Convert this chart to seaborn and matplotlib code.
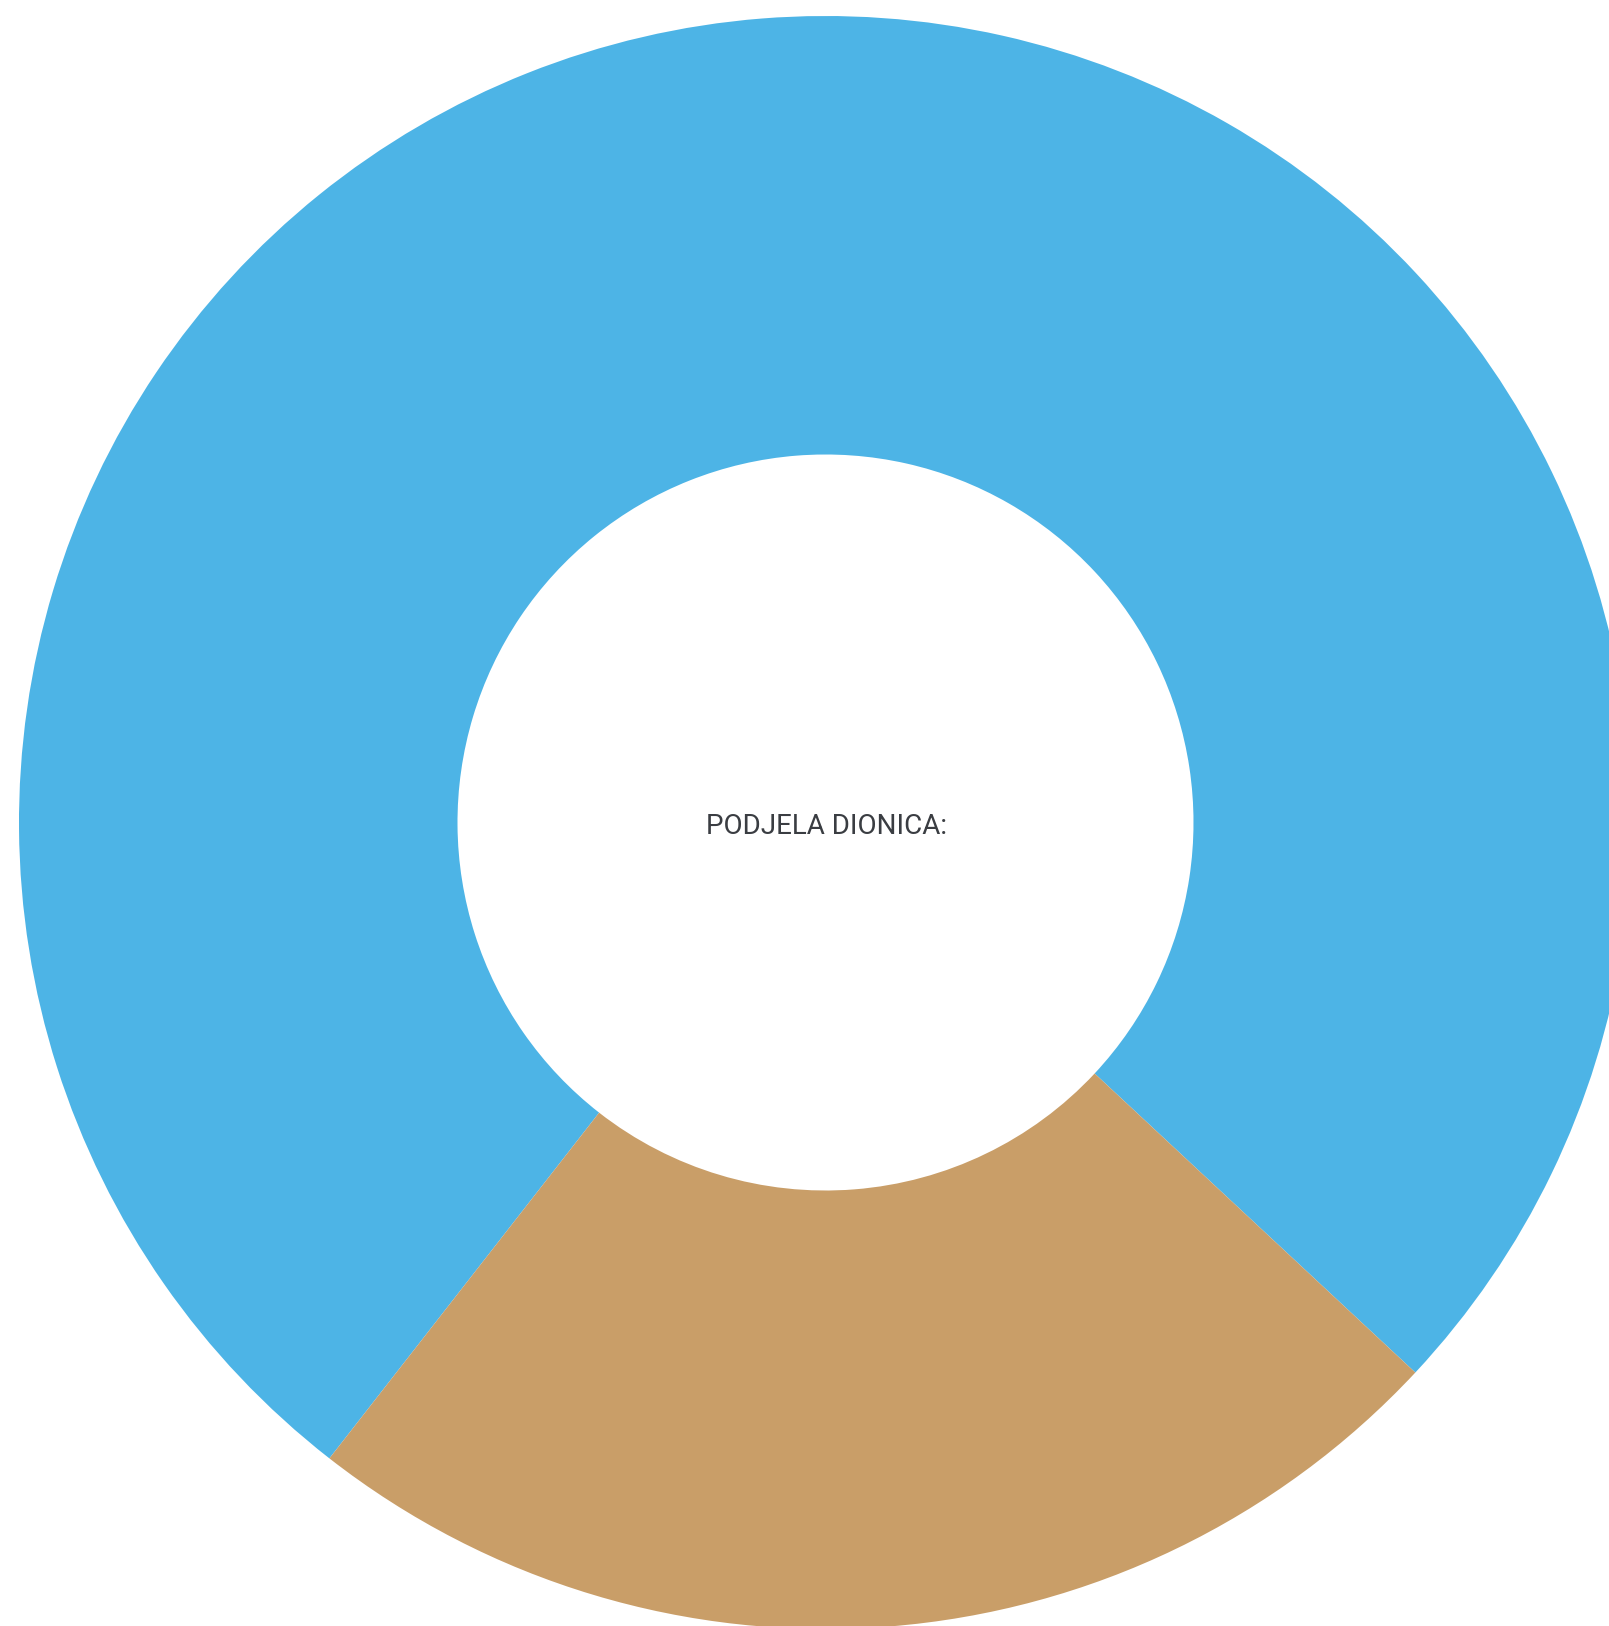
import matplotlib
matplotlib.use("Agg")
import matplotlib.pyplot as plt
import seaborn as sns

# podjela dionica (udjeli u postocima, procijenjeno sa slike)
kategorije = ["Dionice A", "Dionice B"]
udjeli = [76.4, 23.6]
boje = ["#4DB4E6", "#C99E68"]
naslov = "PODJELA DIONICA:"

sns.set_theme(style="white")
plt.rcParams['font.family'] = ['Roboto', 'DejaVu Sans']

fig = plt.figure(figsize=(16.09, 16.26), dpi=100)
ax = fig.add_axes([0, 0, 1, 1])

# sredina i polumjeri u pikselima slike
cx, cy = 825.5, 1626 - 822.5
r_van = 806.5
r_unut = 368

ax.pie(udjeli, colors=sns.color_palette(boje), startangle=-43.0,
       counterclock=True, center=(cx, cy), radius=r_van,
       wedgeprops={'width': r_van - r_unut, 'linewidth': 0})
ax.set_xlim(0, 1609)
ax.set_ylim(0, 1626)
ax.set_aspect('auto')
ax.axis('off')

ax.text(cx + 1, cy - 3.5, naslov, ha='center', va='center', fontsize=20,
        color='#3A3D42')

fig.savefig("out.png", dpi=100, facecolor='white')
